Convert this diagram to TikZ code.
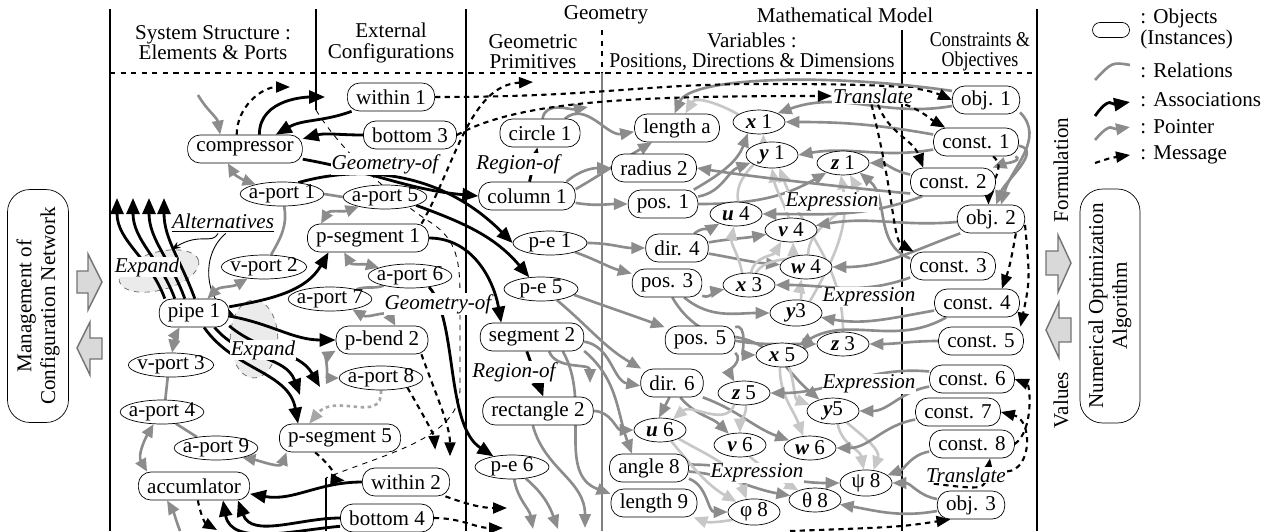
\documentclass[tikz,border=0pt,12pt]{standalone}
\usepackage{fontspec}
\setmainfont{Liberation Serif}
\usepackage{tikz}
\usetikzlibrary{arrows.meta,shapes.geometric,backgrounds}
\tikzstyle{obj}=[rectangle, rounded corners=0.25cm, draw=black, fill=white,
  inner xsep=5pt, inner ysep=0pt, minimum height=0.56cm]
\tikzstyle{port}=[ellipse, draw=black, fill=white, inner xsep=-2pt, inner ysep=-3pt,
  minimum width=1.48cm, minimum height=0.48cm]
\tikzstyle{var}=[ellipse, draw=black, fill=white, inner sep=0pt,
  minimum width=1.04cm, minimum height=0.48cm]
\tikzstyle{lbl}=[font=\itshape, fill=white, inner sep=0.5pt]
\tikzstyle{blob}=[ellipse, draw=black!60, dashed, fill=black!8, inner sep=0pt]
\tikzstyle{assoc}=[-{Triangle[length=3.2mm,width=2.6mm]}, line width=1.6pt]
\tikzstyle{ptr}=[-{Triangle[length=2.8mm,width=2.3mm]}, line width=1.5pt, draw=black!45]
\tikzstyle{lptr}=[ptr, draw=black!22]
\tikzstyle{rel}=[line width=1.5pt, draw=black!45]
\tikzstyle{bip}=[{Triangle[length=2.6mm,width=2.3mm]}-{Triangle[length=2.6mm,width=2.3mm]},
  line width=1.5pt, draw=black!45]
\tikzstyle{msg}=[-{Triangle[length=2.8mm,width=2.2mm]}, line width=1.2pt,
  dash pattern=on 3pt off 2.5pt]
\tikzstyle{blk}=[draw=black!55, fill=black!15, line width=0.8pt]
\tikzstyle{note}=[-{Stealth[length=1.8mm]}, line width=0.5pt]
\newcommand{\vx}[1]{\textbf{\textit{#1}}}

\begin{document}
\begin{tikzpicture}[x=0.02cm, y=-0.02cm]
\useasboundingbox (0,0) rectangle (1266,531);
% headings
\node[align=center] (hss) at (213,43) {System Structure :\\[-3pt]Elements \& Ports};
\node[align=center] (hec) at (391,43) {External\\[-3pt]Configurations};
\node (hgeo) at (606,15) {Geometry};
\node (hmm) at (845,15) {Mathematical Model};
\node[align=center] (hgp) at (533,52) {Geometric\\[-3pt]Primitives};
\node[align=center] (hvar) at (752,52) {Variables :\\[-3pt]\scalebox{0.94}[1]{Positions, Directions \& Dimensions}};
\node[align=center] (hco) at (980,52) {\scalebox{0.85}[1]{Constraints \&}\\[-3pt]\scalebox{0.85}[1]{Objectives}};
% outside boxes
\node[obj, rotate=90, align=center, minimum width=4.66cm, minimum height=1.22cm,
  rounded corners=0.45cm] (mng) at (38,306) {Management of\\[-1pt]Configuration Network};
\node[obj, rotate=90, align=center, minimum width=4.68cm, minimum height=1.2cm,
  rounded corners=0.45cm] (noa) at (1110,306) {Numerical Optimization\\[-1pt]Algorithm};
\node[rotate=90] (form) at (1061,170) {Formulation};
\node[rotate=90] (vals) at (1061,400) {Values};
\draw[blk] (77,271) -- (88,271) -- (88,254) -- (102,282) -- (88,310) -- (88,293) -- (77,293) -- cycle;
\draw[blk] (102,338) -- (90,338) -- (90,322) -- (77,348) -- (90,375) -- (90,359) -- (102,359) -- cycle;
\draw[blk] (1046,251) -- (1058,251) -- (1058,235) -- (1071,263) -- (1058,292) -- (1058,275) -- (1046,275) -- cycle;
\draw[blk] (1071,318) -- (1059,318) -- (1059,302) -- (1046,330) -- (1059,358) -- (1059,342) -- (1071,342) -- cycle;
% legend
\node[obj, minimum width=0.74cm, minimum height=0.3cm, inner sep=0pt, rounded corners=0.15cm] (lgo) at (1111,30) {};
\node[align=left, anchor=west] (lgt1) at (1133,29) {: Objects\\[-3pt](Instances)};
\node[anchor=west] (lgt2) at (1133,70) {: Relations};
\node[anchor=west] (lgt3) at (1133,100) {: Associations};
\node[anchor=west] (lgt4) at (1133,127) {: Pointer};
\node[anchor=west] (lgt5) at (1133,155) {: Message};
\coordinate (lr0) at (1095,80); \coordinate (lr1) at (1130,65);
\coordinate (la0) at (1095,116); \coordinate (la1) at (1130,102);
\coordinate (lp0) at (1095,140); \coordinate (lp1) at (1130,127);
\coordinate (lm0) at (1095,163); \coordinate (lm1) at (1130,155);
% system structure
\node[obj] (comp) at (245,149) {compressor};
\node[port] (ap1) at (282,194) {a-port 1};
\node[port] (ap5) at (385,197) {a-port 5};
\node[obj] (ps1) at (368,238) {p-segment 1};
\node[port] (vp2) at (264,267) {v-port 2};
\node[port] (ap6) at (410,276) {a-port 6};
\node[port] (ap7) at (330,299) {a-port 7};
\node[obj] (pipe) at (194,313) {pipe 1};
\node[obj] (pb2) at (382,340) {p-bend 2};
\node[port] (ap8) at (381,378) {a-port 8};
\node[port] (vp3) at (171,365) {v-port 3};
\node[port] (ap4) at (162,412) {a-port 4};
\node[port] (ap9) at (216,448) {a-port 9};
\node[obj] (ps5) at (340,438) {p-segment 5};
\node[obj] (acc) at (194,486) {accumlator};
% external configurations
\node[obj] (win1) at (391,97) {within 1};
\node[obj] (bot3) at (410,135) {bottom 3};
\node[obj] (win2) at (406,482) {within 2};
\node[obj] (bot4) at (387,518) {bottom 4};
% geometric primitives
\node[obj] (circ1) at (540,133) {circle 1};
\node[obj] (col1) at (527,196) {column 1};
\node[port] (pe1) at (550,243) {p-e 1};
\node[port] (pe5) at (541,289) {p-e 5};
\node[obj] (seg2) at (532,337) {segment 2};
\node[obj] (rect2) at (538,411) {rectangle 2};
\node[port] (pe6) at (512,467) {p-e 6};
% variables
\node[obj] (lena) at (677,128) {length a};
\node[obj] (rad2) at (654,168) {radius 2};
\node[var] (x1) at (759,122) {\vx{x} 1};
\node[var] (y1) at (772,155) {\vx{y} 1};
\node[var] (z1) at (843,163) {\vx{z} 1};
\node[obj] (pos1) at (663,204) {pos. 1};
\node[var] (u4) at (736,214) {\vx{u} 4};
\node[var] (v4) at (791,230) {\vx{v} 4};
\node[obj] (dir4) at (677,248) {dir. 4};
\node[var] (w4) at (806,267) {\vx{w} 4};
\node[obj] (pos3) at (667,283) {pos. 3};
\node[var] (x3) at (749,285) {\vx{x} 3};
\node[var] (y3) at (796,313) {\vx{y}3};
\node[obj] (pos5) at (700,340) {pos. 5};
\node[var] (z3) at (843,344) {\vx{z} 3};
\node[var] (x5) at (782,355) {\vx{x} 5};
\node[obj] (dir6) at (672,383) {dir. 6};
\node[var] (z5) at (744,393) {\vx{z} 5};
\node[var] (y5) at (833,411) {\vx{y}5};
\node[var] (u6) at (660,430) {\vx{u} 6};
\node[var] (v6) at (740,445) {\vx{v} 6};
\node[var] (w6) at (810,448) {\vx{w} 6};
\node[obj] (ang8) at (649,468) {angle 8};
\node[var] (psi8) at (866,483) {ψ 8};
\node[var] (the8) at (815,500) {θ 8};
\node[var] (phi8) at (754,512) {φ 8};
\node[obj] (len9) at (654,503) {length 9};
% constraints and objectives
\node[obj] (obj1) at (986,100) {obj. 1};
\node[obj] (con1) at (976,142) {const. 1};
\node[obj] (con2) at (953,182) {const. 2};
\node[obj] (obj2) at (991,219) {obj. 2};
\node[obj] (con3) at (953,266) {const. 3};
\node[obj] (con4) at (977,303) {const. 4};
\node[obj] (con5) at (981,341) {const. 5};
\node[obj] (con6) at (972,379) {const. 6};
\node[obj] (con7) at (958,412) {const. 7};
\node[obj] (con8) at (972,444) {const. 8};
\node[obj] (obj3) at (971,505) {obj. 3};
% labels
\node[lbl] (geo1) at (385,164) {Geometry-of};
\node[lbl] (reg1) at (518,164) {Region-of};
\node[lbl] (geo2) at (438,304) {Geometry-of};
\node[lbl] (reg2) at (514,372) {Region-of};
\node[lbl] (tr1) at (873,96) {Translate};
\node[lbl] (tr2) at (966,475) {Translate};
\node[lbl] (ex1) at (832,202) {Expression};
\node[lbl] (ex2) at (869,297) {Expression};
\node[lbl] (ex3) at (869,384) {Expression};
\node[lbl] (ex4) at (757,473) {Expression};
\node[lbl] (alt) at (223,223) {\underline{Alternatives}};
\node[lbl] (exp1) at (147,267) {Expand};
\node[lbl] (exp2) at (263,350) {Expand};
% free ends
\coordinate (pin) at (198,95);
\coordinate (pacc) at (180,531);
\coordinate (ga) at (588,107);
\coordinate (gb0) at (590,383);
\coordinate (gb1) at (585,528);
\coordinate (gb2) at (533,529);
\coordinate (gb3) at (558,529);
\foreach \i/\x in {1/117,2/133,3/149,4/164} \coordinate (up\i) at (\x,198);
\coordinate (dn1) at (300,395); \coordinate (dn2) at (320,387);
\coordinate (m1) at (290,87); \coordinate (m2) at (533,82);
\coordinate (m3) at (507,508); \coordinate (m4) at (503,528);
\coordinate (m5) at (217,530); \coordinate (m6) at (790,531);

\begin{scope}[on background layer]
% frame
\draw[line width=0.6pt] (110,9) -- (110,531);
\draw[line width=0.6pt] (316,9) -- (316,110);
\draw[line width=0.6pt] (326,478) -- (326,531);
\draw[line width=0.6pt] (466,9) -- (466,531);
\draw[line width=0.6pt, dashed] (602,30) -- (602,73);
\draw[line width=0.6pt, black!50] (602,73) -- (602,531);
\draw[line width=0.6pt] (902,30) -- (902,531);
\draw[line width=0.6pt] (1037,9) -- (1037,531);
\draw[line width=0.6pt, dashed] (110,73) -- (1037,73);
\draw[line width=0.5pt, dashed] (316,110) .. controls (340,150) and (395,200) .. (430,222)
  .. controls (458,240) and (460,262) .. (460,300) -- (460,390)
  .. controls (458,440) and (380,455) .. (326,478);
\node[blob, minimum width=1.64cm, minimum height=0.76cm, rotate=15] (bl1) at (159,271) {};
\node[blob, minimum width=0.95cm, minimum height=1.56cm] (bl2) at (254,339) {};
\draw[note] (alt.-115) .. controls (212,245) and (200,232) .. (bl1.45);
\draw[note] (alt.-75) .. controls (200,255) and (205,300) .. (bl2.130);
% legend lines
\draw[rel] (lr0) .. controls (1112,62) .. (lr1);
\draw[assoc] (la0) .. controls (1110,95) and (1112,105) .. (la1);
\draw[ptr] (lp0) .. controls (1112,120) and (1112,130) .. (lp1);
\draw[msg] (lm0) .. controls (1110,158) .. (lm1);
% structure relations
\draw[ptr] (pin) to[out=-60,in=100] (comp.150);
\draw[bip] (comp.-140) to[out=-60,in=160] (ap1.160);
\draw[rel] (ap1.east) -- (ap5.west);
\draw[rel] (ap1.-80) to[out=-80,in=60] (vp2.60);
\draw[bip] (ps1.163) to[out=60,in=200] (ap5.200);
\draw[bip] (vp2.215) to[out=210,in=45] (pipe.47);
\draw[bip] (ps1.-149) to[out=-60,in=165] (ap6.165);
\draw[rel] (ap6.200) to[out=200,in=20] (ap7.20);
\draw[bip] (ap7.-25) to[out=-30,in=120] (pb2.47);
\draw[bip] (pb2.-167) to[out=-150,in=180] (ap8.west);
\draw[ptr, draw=black!35, dash pattern=on 2pt off 2pt] (ap8.south) .. controls (383,425) and (335,392) .. (ps5.155);
\draw[bip] (pipe.-135) to[out=-120,in=80] (vp3.85);
\draw[rel] (vp3.-105) -- (ap4.75);
\draw[rel] (ap4.-40) -- (ap9.150);
\draw[bip] (ap4.-125) to[out=-120,in=120] (acc.163);
\draw[bip] (ap9.-20) to[out=-10,in=-110] (ps5.-165);
\draw[ptr] (pacc) to[out=110,in=-60] (acc.-152);
% geometry to variables
\draw[ptr] (circ1.80) to[out=80,in=190] (ga);
\draw[ptr] (circ1.30) to[out=40,in=190] (lena.185);
\draw[ptr] (col1.20) to[out=40,in=180] (rad2.west);
\draw[ptr] (col1.8) to[out=30,in=210] (lena.210);
\draw[ptr] (col1.-8) to[out=-10,in=180] (pos1.west);
\draw[ptr] (pe1.east) to[out=0,in=180] (dir4.west);
\draw[ptr] (pe1.-20) to[out=-20,in=165] (pos3.165);
\draw[ptr] (pe5.-10) to[out=-20,in=160] (pos5.160);
\draw[ptr] (pe5.-35) to[out=-40,in=150] (dir6.155);
\draw[ptr] (seg2.-5) to[out=-10,in=170] (dir6.185);
\draw[ptr] (seg2.-15) to[out=-40,in=110] (ang8.140);
\draw[ptr] (seg2.-25) to[out=-60,in=160] (len9.168);
\draw[ptr] (seg2.-40) to[out=-70,in=90] (gb0);
\draw[ptr] (rect2.east) to[out=0,in=180] (u6.west);
\draw[ptr] (rect2.-110) .. controls (545,470) and (585,480) .. (gb1);
\draw[ptr] (pe6.-80) to[out=-80,in=100] (gb2);
\draw[ptr] (pe6.-40) to[out=-40,in=110] (gb3);
% containers to components
\draw[ptr] (pos1.25) to[out=30,in=-110] (x1.-135);
\draw[ptr] (pos1.12) to[out=10,in=200] (y1.200);
\draw[ptr] (pos1.0) to[out=0,in=210] (z1.210);
\draw[ptr] (dir4.40) to[out=40,in=210] (u4.210);
\draw[ptr] (dir4.10) to[out=10,in=190] (v4.190);
\draw[ptr] (dir4.-10) to[out=-10,in=175] (w4.175);
\draw[ptr] (pos3.-20) to[out=-20,in=190] (x3.190);
\draw[ptr] (pos3.-40) to[out=-40,in=180] (y3.180);
\draw[ptr] (pos3.-70) to[out=-60,in=180] (z3.180);
\draw[ptr] (pos5.20) to[out=20,in=180] (x5.180);
\draw[ptr] (pos5.-20) to[out=-40,in=120] (z5.130);
\draw[ptr] (pos5.5) to[out=-10,in=140] (y5.140);
\draw[ptr] (dir6.-100) -- (u6.95);
\draw[ptr] (dir6.-60) to[out=-50,in=135] (v6.135);
\draw[ptr] (dir6.-25) to[out=-20,in=160] (w6.160);
\draw[ptr] (ang8.-15) to[out=-20,in=180] (phi8.west);
\draw[ptr] (ang8.-5) to[out=-5,in=170] (the8.170);
\draw[ptr] (ang8.5) to[out=0,in=180] (psi8.west);
% expressions
\draw[lptr] (x3.120) to[out=100,in=-100] (u4.-100);
\draw[lptr] (x3.80) to[out=80,in=-120] (v4.-130);
\draw[lptr] (x3.60) to[out=60,in=-90] (v4.-80);
\draw[lptr] (y3.70) to[out=80,in=-100] (w4.-110);
\draw[lptr] (y3.40) to[out=60,in=-80] (z1.-100);
\draw[lptr] (z3.90) to[out=90,in=-70] (y1.-60);
\draw[lptr] (w4.80) to[out=90,in=-60] (z1.-60);
\draw[lptr] (v4.100) to[out=110,in=-80] (y1.-90);
\draw[lptr] (u4.80) to[out=100,in=-90] (x1.-70);
\draw[lptr] (x1.160) to[out=150,in=60] (lena.60);
\draw[lptr] (z5.-130) to[out=-110,in=40] (u6.40);
\draw[lptr] (z5.-80) to[out=-90,in=90] (v6.90);
\draw[lptr] (x5.-100) to[out=-90,in=110] (w6.120);
\draw[lptr] (x5.-60) to[out=-70,in=160] (y5.165);
\draw[lptr] (y5.-70) to[out=-80,in=100] (psi8.100);
\draw[lptr] (y5.-40) to[out=-40,in=70] (psi8.60);
\draw[lptr] (u6.-25) to[out=-30,in=110] (phi8.120);
\draw[lptr] (u6.-45) to[out=-50,in=150] (phi8.150);
\draw[lptr] (v6.-50) to[out=-40,in=150] (the8.150);
\draw[lptr] (phi8.200) to[out=190,in=-20] (len9.-20);
% constraints to variables
\draw[ptr] (obj1.165) .. controls (820,72) and (690,78) .. (lena.100);
\draw[ptr] (obj1.190) to[out=190,in=20] (x1.25);
\draw[ptr] (con1.170) to[out=170,in=0] (x1.east);
\draw[ptr] (con1.190) to[out=190,in=10] (y1.east);
\draw[ptr] (con2.170) to[out=170,in=0] (z1.east);
\draw[ptr] (con2.195) .. controls (870,190) and (760,178) .. (rad2.east);
\draw[ptr] (con2.205) to[out=200,in=0] (u4.east);
\draw[ptr] (con1.-5) to[out=-10,in=70] (obj2.70);
\draw[ptr] (obj1.-20) to[out=-45,in=75] (obj2.55);
\draw[ptr] (con1.-20) to[out=-30,in=20] (con2.20);
\draw[ptr] (obj2.185) to[out=185,in=10] (v4.10);
\draw[ptr] (obj2.205) to[out=200,in=0] (w4.east);
\draw[ptr] (con3.170) to[out=160,in=-40] (z1.-30);
\draw[ptr] (con3.195) to[out=200,in=0] (x3.east);
\draw[ptr] (con4.190) to[out=190,in=-10] (y3.-10);
\draw[ptr] (con5.180) to[out=180,in=0] (z3.east);
\draw[ptr] (con4.205) to[out=210,in=30] (x5.30);
\draw[ptr] (con6.190) to[out=190,in=0] (y5.east);
\draw[ptr] (con6.170) to[out=175,in=0] (z5.east);
\draw[ptr] (con7.190) to[out=190,in=0] (w6.east);
\draw[ptr] (con8.190) to[out=190,in=20] (psi8.20);
\draw[ptr] (obj3.170) to[out=170,in=0] (psi8.east);
\draw[ptr] (obj3.190) to[out=190,in=-10] (the8.-10);
% associations
\draw[assoc, shorten >=0.44cm] (comp.45) to[out=90,in=180] (win1.west);
\draw[assoc] (win1.200) to[out=200,in=30] (comp.25);
\draw[assoc] (bot3.west) to[out=180,in=15] (comp.10);
\draw[assoc] (comp.-10) to[out=-10,in=175] (col1.west);
\draw[assoc] (col1.80) -- (circ1.-100);
\draw[assoc] (ap1.35) .. controls (360,165) and (440,170) .. (pe1.west);
\draw[assoc] (ap5.-15) to[out=-20,in=130] (pe5.135);
\draw[assoc] (ps1.east) to[out=0,in=100] (seg2.155);
\draw[assoc] (seg2.-110) -- (rect2.70);
\draw[assoc] (pipe.10) to[out=10,in=-120] (ps1.-160);
\draw[assoc] (pipe.-5) to[out=-10,in=180] (pb2.west);
\draw[assoc] (pipe.-20) to[out=-40,in=120] (dn2);
\draw[assoc] (pipe.-35) to[out=-50,in=110] (dn1);
\draw[assoc] (pipe.-55) to[out=-55,in=100] ([xshift=0.38cm]ps5.north west);
\foreach \i/\d in {1/0.12,2/0.32,3/0.52,4/0.72}
  \draw[assoc] ([xshift=\d cm]pipe.north west) to[out=110,in=-90] (up\i);
\draw[assoc] (ap6.-30) .. controls (458,320) and (445,425) .. (pe6.150);
\draw[assoc] (win2.west) to[out=180,in=-10] (acc.-8);
\draw[assoc] (bot4.west) to[out=180,in=-70] ([xshift=-0.24cm]acc.south east);
\draw[assoc] (bot4.-170) to[out=185,in=-80] ([xshift=-0.54cm]acc.south east);
% messages
\draw[msg] (comp.120) to[out=90,in=180] (m1);
\draw[msg] (win1.east) .. controls (600,97) and (640,84) .. (760,84)
  .. controls (880,84) and (920,86) .. (obj1.west);
\draw[msg] (bot3.east) .. controls (520,100) and (640,96) .. (tr1.west);
\draw[msg] (ps1.15) .. controls (455,165) and (470,85) .. (m2);
\draw[msg] (tr1.-15) to[out=-20,in=150] (con1.155);
\draw[msg] (tr1.-60) to[out=-70,in=110] ([xshift=0.26cm]con2.north west);
\draw[msg] (tr1.-100) .. controls (895,200) and (893,240) .. (con3.160);
\draw[msg] (con1.-40) to[out=-40,in=90] (obj2.100);
\draw[msg] (obj2.-30) to[out=-100,in=70] (con4.30);
\draw[msg] (obj2.-10) .. controls (1030,280) .. (con5.20);
\draw[msg] (tr2.5) .. controls (1032,470) and (1033,420) .. (con7.east);
\draw[msg] (con8.east) .. controls (1034,430) and (1030,385) .. (con6.east);
\draw[msg] (tr2.-165) .. controls (985,490) .. ([xshift=0.36cm]con8.south);
\draw[msg] (m6) .. controls (900,527) .. (obj3.-145);
\draw[msg, shorten >=0.35cm] (ps5.-150) to[out=-40,in=175] (win2.west);
\draw[msg, shorten >=0.36cm] (ap8.-20) to[out=-60,in=95] (win2.25);
\draw[msg, shorten >=0.36cm] (pb2.-20) to[out=-70,in=90] (win2.10);
\draw[msg] (win2.-20) to[out=-20,in=180] (m3);
\draw[msg] (bot4.east) to[out=0,in=180] (m4);
\draw[msg] (acc.-75) to[out=-80,in=150] (m5);
\end{scope}
\end{tikzpicture}
\end{document}
